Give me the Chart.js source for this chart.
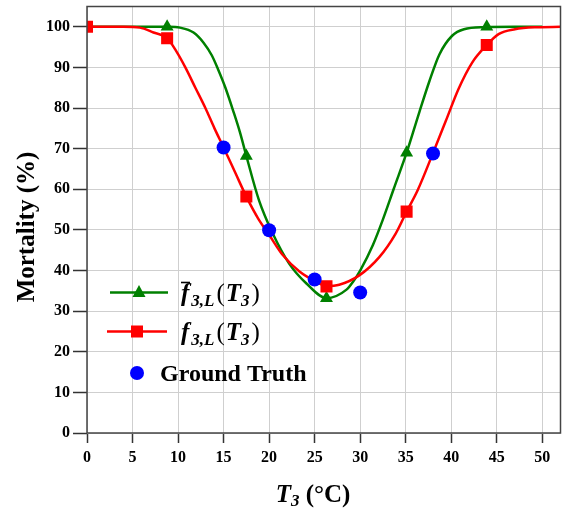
<!DOCTYPE html>
<html>
<head>
<meta charset="utf-8">
<script src="https://cdn.jsdelivr.net/npm/chart.js@4.4.1/dist/chart.umd.min.js"></script>
<style>
  body { margin: 0; background: #fff; }
  #wrap { width: 565px; height: 509px; overflow: hidden; }
  #mortalityChart { display: block; margin-top: -2px; }
</style>
</head>
<body>
<div id="wrap"><canvas id="mortalityChart" width="569" height="511"></canvas></div>
<script>
// curve: f-bar (green)
const greenX = [0, 5, 9, 10.2, 11.7, 12.8, 13.7, 14.4, 15.2, 16.1, 16.8, 17.5, 18.9, 20.4, 22.2, 24.1, 26.3, 28.5, 29.2, 30, 31.4, 32.5, 33.7, 35.1, 36.5, 37.6, 38.7, 40.1, 41.4, 43.7, 47, 50];
const greenY = [100, 100, 100, 99.8, 98.6, 96.1, 93, 89.5, 85, 79, 74, 68.2, 57.2, 49.1, 41.7, 36.8, 33.2, 35.3, 37.2, 40, 46.3, 52.6, 60.2, 69, 79, 86.6, 93.2, 97.8, 99.4, 99.9, 100, 100];

// curve f (red)
const redX = [0, 4, 5.8, 7.3, 8.8, 9.8, 10.8, 11.9, 13, 14, 15, 16.3, 17.5, 18.8, 20, 21.5, 23.3, 25.1, 26.3, 27.7, 29.9, 32.1, 33.9, 35.1, 36.3, 38.1, 39.4, 40.8, 42.3, 43.9, 45.2, 47, 49.5, 52];
const redY = [100, 100, 99.8, 98.6, 97.2, 94, 90, 85, 80, 75, 70.3, 64, 58.2, 52.8, 48.8, 43.8, 39.8, 37.3, 36.2, 36.5, 38.8, 43.3, 49.1, 54.5, 59.7, 69.5, 76.8, 84.7, 91.2, 95.5, 98.2, 99.4, 99.9, 100];

// markers
const greenMarkX = [8.8, 17.5, 26.3, 35.1, 43.9];
const greenMarkY = [100, 68.2, 33.2, 69, 100];
const redMarkX = [0, 8.8, 17.5, 26.3, 35.1, 43.9];
const redMarkY = [100, 97.2, 58.2, 36.1, 54.5, 95.5];

// ground truth
const truthX = [15, 20, 25, 30, 38];
const truthY = [70.3, 49.9, 37.8, 34.6, 68.8];

const xTicks = [0, 5, 10, 15, 20, 25, 30, 35, 40, 45, 50];
const yTicks = [0, 10, 20, 30, 40, 50, 60, 70, 80, 90, 100];

const GREEN = "#008000", RED = "#ff0000", BLUE = "#0000ff";
const SERIF = "'Liberation Serif', 'Times New Roman', serif";
const OY = 2; // canvas is shifted up by 2px

function pts(xs, ys) {
    return xs.map((x, i) => ({ x: x, y: ys[i] }));
}

// draw a math-ish label piece by piece, returns end x
function mathText(ctx, parts, x, y) {
    parts.forEach(p => {
        ctx.font = p.font;
        ctx.fillText(p.t, x, y + (p.dy || 0));
        x += ctx.measureText(p.t).width + (p.gap || 0);
    });
    return x;
}

const extras = {
    id: "extras",
    afterDraw(chart) {
        const ctx = chart.ctx;
        const a = chart.chartArea;
        ctx.save();

        // frame
        ctx.strokeStyle = "#444";
        ctx.lineWidth = 1.5;
        ctx.strokeRect(a.left, a.top, a.right - a.left, a.bottom - a.top);

        ctx.fillStyle = "#000";
        ctx.textBaseline = "alphabetic";
        ctx.translate(0, OY);

        // x title
        const bi = "italic bold 25px " + SERIF;
        const b = "bold 25px " + SERIF;
        const sub = "italic bold 17px " + SERIF;
        ctx.font = bi;
        let w = ctx.measureText("T").width;
        ctx.font = sub; w += ctx.measureText("3").width;
        ctx.font = b; w += ctx.measureText(" (°C)").width;
        mathText(ctx, [
            { t: "T", font: bi },
            { t: "3", font: sub, dy: 4 },
            { t: " (°C)", font: b }
        ], 313 - w / 2, 502);

        // y title
        ctx.save();
        ctx.translate(28, 227);
        ctx.rotate(-Math.PI / 2);
        ctx.font = "bold 25px " + SERIF;
        ctx.textAlign = "center";
        ctx.textBaseline = "middle";
        ctx.fillText("Mortality (%)", 0, 0);
        ctx.restore();

        // legend
        ctx.lineWidth = 2.5;
        ctx.strokeStyle = GREEN;
        ctx.beginPath(); ctx.moveTo(110, 292.5); ctx.lineTo(168, 292.5); ctx.stroke();
        ctx.fillStyle = GREEN;
        ctx.beginPath();
        ctx.moveTo(139, 285); ctx.lineTo(145.5, 297); ctx.lineTo(132.5, 297); ctx.closePath();
        ctx.fill();

        ctx.strokeStyle = RED;
        ctx.beginPath(); ctx.moveTo(107, 331.5); ctx.lineTo(167, 331.5); ctx.stroke();
        ctx.fillStyle = RED;
        ctx.fillRect(131, 325.5, 12, 12);

        ctx.fillStyle = BLUE;
        ctx.beginPath(); ctx.arc(137, 373, 7, 0, Math.PI * 2); ctx.fill();

        ctx.fillStyle = "#000";
        const lbl = [
            { t: "f", font: "italic bold 25px " + SERIF, gap: 2 },
            { t: "3,L", font: "italic bold 17px " + SERIF, dy: 5, gap: 2 },
            { t: "(", font: "25px " + SERIF, gap: 1 },
            { t: "T", font: "italic bold 25px " + SERIF },
            { t: "3", font: "italic bold 17px " + SERIF, dy: 5, gap: 2 },
            { t: ")", font: "25px " + SERIF }
        ];
        mathText(ctx, lbl, 181, 301);
        mathText(ctx, lbl, 181, 340);
        // bar over the first f
        ctx.strokeStyle = "#000";
        ctx.lineWidth = 1.6;
        ctx.beginPath(); ctx.moveTo(181, 282.5); ctx.lineTo(190, 282.5); ctx.stroke();

        ctx.font = "bold 24px " + SERIF;
        ctx.fillText("Ground Truth", 160, 381);

        ctx.restore();
    }
};

new Chart("mortalityChart", {
    type: "scatter",
    data: {
        datasets: [
            { label: "Ground Truth", data: pts(truthX, truthY), pointStyle: "circle",
              pointRadius: 7, pointHoverRadius: 7, backgroundColor: BLUE, borderWidth: 0 },
            { label: "f marks", data: pts(redMarkX, redMarkY), pointStyle: "rect",
              pointRadius: 8.5, pointHoverRadius: 8.5, backgroundColor: RED, borderWidth: 0 },
            { label: "fbar marks", data: pts(greenMarkX, greenMarkY), pointStyle: "triangle",
              pointRadius: 7.5, pointHoverRadius: 7.5, backgroundColor: GREEN, borderWidth: 0 },
            { label: "f", data: pts(redX, redY), showLine: true, pointRadius: 0,
              borderColor: RED, borderWidth: 2.5, cubicInterpolationMode: "monotone" },
            { label: "fbar", data: pts(greenX, greenY), showLine: true, pointRadius: 0,
              borderColor: GREEN, borderWidth: 2.5, cubicInterpolationMode: "monotone" }
        ]
    },
    options: {
        responsive: false,
        animation: false,
        layout: { padding: { left: 0, right: 1, top: 3, bottom: 0 } },
        plugins: { legend: { display: false }, tooltip: { enabled: false } },
        scales: {
            x: {
                type: "linear", min: 0, max: 52,
                afterFit(scale) { scale.height = 76; scale.paddingLeft = 0; scale.paddingRight = 0; },
                afterBuildTicks(scale) { scale.ticks = xTicks.map(v => ({ value: v })); },
                ticks: { font: { family: SERIF, size: 16, weight: "bold" }, color: "#000", padding: 5 },
                grid: { color: "#cfcfcf", lineWidth: 1, tickLength: 10, tickColor: "#333", tickWidth: 1.5 },
                border: { display: false }
            },
            y: {
                type: "linear", min: 0, max: 105,
                afterFit(scale) { scale.width = 87; scale.paddingTop = 0; scale.paddingBottom = 0; },
                afterBuildTicks(scale) { scale.ticks = yTicks.map(v => ({ value: v })); },
                ticks: { font: { family: SERIF, size: 16, weight: "bold" }, color: "#000", padding: 3 },
                grid: { color: "#cfcfcf", lineWidth: 1, tickLength: 14, tickColor: "#333", tickWidth: 1.5 },
                border: { display: false }
            }
        }
    },
    plugins: [extras]
});
</script>
</body>
</html>
